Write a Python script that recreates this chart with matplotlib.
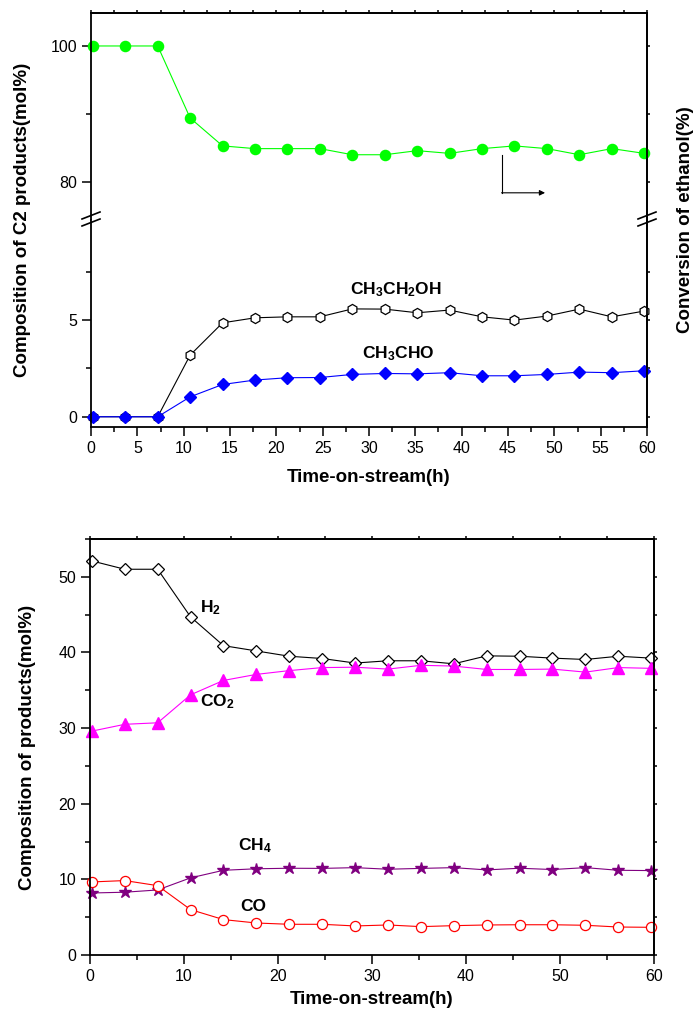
import matplotlib
matplotlib.use("Agg")
import matplotlib.pyplot as plt
from matplotlib.lines import Line2D
from matplotlib.ticker import MultipleLocator, FixedLocator

plt.rcParams['font.family'] = ['Liberation Sans', 'DejaVu Sans']
plt.rcParams['mathtext.fontset'] = 'custom'
plt.rcParams['mathtext.rm'] = 'Liberation Sans:bold'
plt.rcParams['mathtext.it'] = 'Liberation Sans:bold'
plt.rcParams['mathtext.bf'] = 'Liberation Sans:bold'

# time on stream (h), shared by both panels
time_h = [0.2, 3.7, 7.2, 10.7, 14.2, 17.7, 21.2, 24.7, 28.2,
          31.7, 35.2, 38.7, 42.2, 45.7, 49.2, 52.7, 56.2, 59.7]

# top panel
conversion = [100, 100, 100, 89.4, 85.3, 84.9, 84.9, 84.9, 84.0,
              84.0, 84.6, 84.2, 84.9, 85.3, 84.9, 84.0, 84.9, 84.2]
ethanol = [0, 0, 0, 3.19, 4.86, 5.12, 5.17, 5.17, 5.58,
           5.57, 5.38, 5.52, 5.17, 5.0, 5.21, 5.57, 5.17, 5.47]
acetaldehyde = [0, 0, 0, 1.03, 1.67, 1.9, 2.02, 2.03, 2.19,
                2.24, 2.22, 2.28, 2.12, 2.12, 2.19, 2.31, 2.28, 2.38]
lo_major = [0, 5]
lo_minor = [2.5, 7.5]

# bottom panel
h2 = [52.1, 51.0, 51.0, 44.7, 40.9, 40.2, 39.5, 39.2, 38.6,
      38.9, 38.9, 38.5, 39.55, 39.5, 39.25, 39.07, 39.5, 39.25]
co2 = [29.6, 30.5, 30.7, 34.4, 36.3, 37.1, 37.6, 38.0, 38.05,
       37.8, 38.3, 38.2, 37.75, 37.75, 37.8, 37.4, 38.0, 37.9]
ch4 = [8.2, 8.3, 8.6, 10.2, 11.2, 11.4, 11.47, 11.45, 11.55,
       11.34, 11.45, 11.55, 11.25, 11.47, 11.3, 11.55, 11.2, 11.16]
co = [9.66, 9.84, 9.17, 6.0, 4.68, 4.23, 4.06, 4.06, 3.84,
      3.97, 3.75, 3.88, 3.97, 4.0, 4.0, 3.93, 3.7, 3.66]

W, H = 695, 1011
fig = plt.figure(figsize=(W / 100, H / 100), dpi=100)


def box(l, t, r, b):
    # pixel box -> figure fraction rect
    return [l / W, 1 - b / H, (r - l) / W, (b - t) / H]


def fx(x):
    return x / W


def fy(y):
    return 1 - y / H


def style(ax, xmaj, xmin, ymaj, ymin):
    ax.xaxis.set_major_locator(MultipleLocator(xmaj))
    ax.xaxis.set_minor_locator(MultipleLocator(xmin))
    ax.yaxis.set_major_locator(MultipleLocator(ymaj))
    ax.yaxis.set_minor_locator(MultipleLocator(ymin))
    ax.tick_params(which='both', direction='out', labelsize=11.5, width=1.1,
                   top=False, right=False)
    ax.tick_params(which='major', length=6.5)
    ax.tick_params(which='minor', length=3.5)
    for s in ax.spines.values():
        s.set_linewidth(1.3)


def mirror(ax, xstep, yticks, top=True):
    # short outward ticks on the right / top, no labels
    sy = ax.secondary_yaxis('right')
    sy.yaxis.set_major_locator(FixedLocator(yticks))
    sy.tick_params(direction='out', length=2.2, width=1.1, labelright=False)
    sy.spines['right'].set_linewidth(1.3)
    if top:
        sx = ax.secondary_xaxis('top')
        sx.xaxis.set_major_locator(MultipleLocator(xstep))
        sx.tick_params(direction='out', length=2.2, width=1.1, labeltop=False)
        sx.spines['top'].set_linewidth(1.3)


line_kw = dict(lw=0.8, clip_on=False)
lbl_kw = dict(fontsize=13.5, fontweight='bold')
ann_kw = dict(fontsize=12.5, fontweight='bold', va='center')

# ---------------- top panel (broken y axis) ----------------
ax_hi = fig.add_axes(box(91, 13, 647, 220))
ax_lo = fig.add_axes(box(91, 220, 647, 427))

for ax in (ax_hi, ax_lo):
    ax.set_xlim(0, 60)
ax_hi.set_ylim(74.4, 104.85)
ax_lo.set_ylim(-0.53, 10.18)

style(ax_hi, 5, 2.5, 20, 10)
style(ax_lo, 5, 2.5, 5, 2.5)
ax_lo.yaxis.set_major_locator(FixedLocator(lo_major))
ax_lo.yaxis.set_minor_locator(FixedLocator(lo_minor))
ax_hi.spines['bottom'].set_visible(False)
ax_lo.spines['top'].set_visible(False)
ax_hi.tick_params(which='both', bottom=False, labelbottom=False)
mirror(ax_hi, 2.5, [80, 90, 100], top=True)
mirror(ax_lo, 2.5, lo_major + lo_minor, top=False)

ax_hi.plot(time_h, conversion, '-o', color='#00ff00', ms=7.3, mec='#00ff00', **line_kw)
ax_lo.plot(time_h, ethanol, '-h', color='k', mfc='white', mec='k', ms=7.3, mew=0.9, **line_kw)
ax_lo.plot(time_h, acetaldehyde, '-D', color='#0000ff', mfc='#0000ff', mec='#0000ff', ms=6.0, **line_kw)

# arrow pointing to the right-hand axis
arrow_x0, arrow_x1 = 44.3, 49.0
arrow_y0, arrow_y1 = 84.0, 78.4
ax_hi.plot([arrow_x0, arrow_x0], [arrow_y0, arrow_y1], color='k', lw=0.8)
ax_hi.annotate('', xy=(arrow_x1, arrow_y1), xytext=(arrow_x0, arrow_y1),
               arrowprops=dict(arrowstyle='-|>', color='k', lw=0.8, mutation_scale=8,
                               shrinkA=0, shrinkB=0))

ax_lo.text(28.0, 6.6, 'CH$_3$CH$_2$OH', **ann_kw)
ax_lo.text(29.2, 3.25, 'CH$_3$CHO', **ann_kw)

# break marks on both spines
for xc in (91, 647):
    for yc in (215.5, 222.5):
        fig.add_artist(Line2D([fx(xc - 9), fx(xc + 9)], [fy(yc + 3.5), fy(yc - 3.5)],
                              color='k', lw=1.2, transform=fig.transFigure))

fig.text(fx(23), fy(220), 'Composition of C2 products(mol%)', rotation=90,
         ha='center', va='center', **lbl_kw)
fig.text(fx(685), fy(220), 'Conversion of ethanol(%)', rotation=90,
         ha='center', va='center', **lbl_kw)
fig.text(fx(369), fy(478), 'Time-on-stream(h)', ha='center', va='center', **lbl_kw)

# ---------------- bottom panel ----------------
ax_b = fig.add_axes(box(90, 539, 654, 955))
ax_b.set_xlim(0, 60)
ax_b.set_ylim(0, 55)
style(ax_b, 10, 5, 10, 5)
mirror(ax_b, 5, list(range(0, 56, 5)), top=True)

ax_b.plot(time_h, h2, '-D', color='k', mfc='white', mec='k', ms=6.5, mew=0.9, **line_kw)
ax_b.plot(time_h, co2, '-^', color='#ff00ff', mfc='#ff00ff', mec='#ff00ff', ms=8, **line_kw)
ax_b.plot(time_h, ch4, '-*', color='#800080', mfc='#800080', mec='#800080', ms=9, **line_kw)
ax_b.plot(time_h, co, '-o', color='#ff0000', mfc='white', mec='#ff0000', ms=7.3, mew=0.9, **line_kw)

ax_b.text(11.7, 45.9, 'H$_2$', **ann_kw)
ax_b.text(11.7, 33.5, 'CO$_2$', **ann_kw)
ax_b.text(15.7, 14.5, 'CH$_4$', **ann_kw)
ax_b.text(16.0, 6.35, 'CO', **ann_kw)

fig.text(fx(28), fy(747), 'Composition of products(mol%)', rotation=90,
         ha='center', va='center', **lbl_kw)
fig.text(fx(372), fy(1000), 'Time-on-stream(h)', ha='center', va='center', **lbl_kw)

fig.savefig('out.png', dpi=100)
